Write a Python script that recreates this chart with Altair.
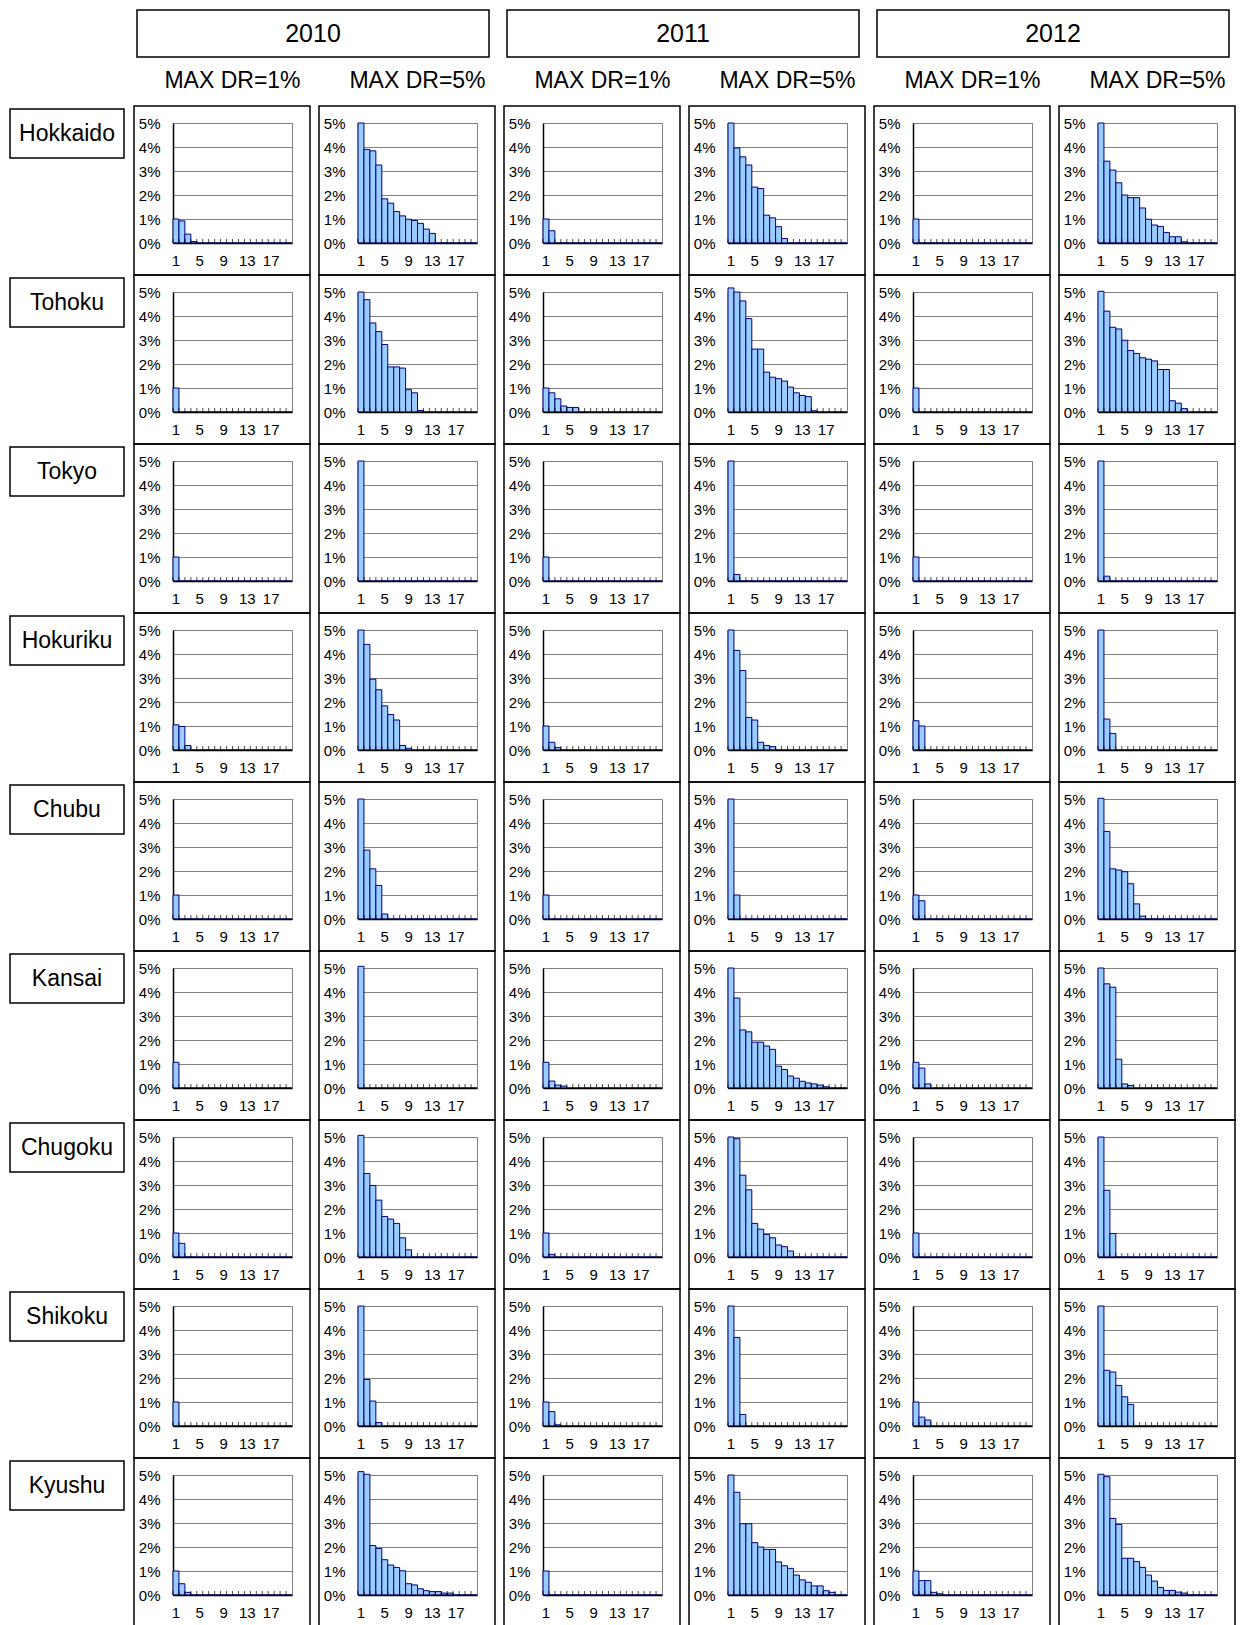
import altair as alt
import pandas as pd

# ---------------- data ----------------
regions = ["Hokkaido", "Tohoku", "Tokyo", "Hokuriku", "Chubu",
           "Kansai", "Chugoku", "Shikoku", "Kyushu"]
years = ["2010", "2011", "2012"]
dr_labels = ["MAX DR=1%", "MAX DR=5%"]
bins = list(range(1, 21))
x_label_values = [1, 5, 9, 13, 17]
y_tick_values = [0, 1, 2, 3, 4, 5]

# order of series in each region: 2010 DR1, 2010 DR5, 2011 DR1, 2011 DR5, 2012 DR1, 2012 DR5
# values in percent for bins 1, 2, 3, ... (remaining bins are 0)
hokkaido = [
    [1.0, 0.92, 0.37, 0.06],
    [5.0, 3.9, 3.84, 3.25, 1.84, 1.66, 1.31, 1.13, 0.99, 0.94, 0.82, 0.58, 0.4],
    [1.0, 0.51],
    [5.0, 3.96, 3.59, 3.25, 2.33, 2.27, 1.16, 1.05, 0.68, 0.19],
    [1.0],
    [5.0, 3.41, 3.04, 2.51, 2.0, 1.89, 1.89, 1.46, 0.99, 0.75, 0.69, 0.44, 0.26, 0.26, 0.05],
]
tohoku = [
    [1.0],
    [5.0, 4.68, 3.71, 3.35, 2.81, 1.88, 1.88, 1.83, 0.93, 0.8, 0.06],
    [1.0, 0.8, 0.55, 0.25, 0.19, 0.19],
    [5.17, 5.0, 4.63, 3.89, 2.62, 2.62, 1.66, 1.45, 1.39, 1.29, 1.04, 0.8, 0.69, 0.64, 0.05],
    [1.0],
    [5.03, 4.2, 3.53, 3.46, 2.99, 2.56, 2.44, 2.26, 2.2, 2.13, 1.77, 1.77, 0.47, 0.37, 0.14],
]
tokyo = [
    [1.0],
    [5.0],
    [1.0],
    [5.0, 0.27],
    [1.0],
    [5.0, 0.2],
]
hokuriku = [
    [1.05, 0.98, 0.19],
    [5.0, 4.4, 2.95, 2.51, 1.84, 1.48, 1.25, 0.19, 0.07],
    [1.0, 0.32, 0.1],
    [5.0, 4.15, 3.31, 1.36, 1.25, 0.32, 0.19, 0.14],
    [1.22, 1.0],
    [5.0, 1.29, 0.69],
]
chubu = [
    [1.0],
    [5.0, 2.87, 2.09, 1.4, 0.21],
    [1.0],
    [5.0, 1.0],
    [1.0, 0.76],
    [5.03, 3.65, 2.09, 2.04, 1.97, 1.47, 0.63, 0.12],
]
kansai = [
    [1.07],
    [5.07],
    [1.07, 0.29, 0.12, 0.08],
    [5.0, 3.75, 2.42, 2.34, 1.91, 1.91, 1.75, 1.61, 0.91, 0.77, 0.5, 0.41, 0.28, 0.21, 0.17, 0.12, 0.05],
    [1.07, 0.83, 0.17],
    [5.0, 4.34, 4.2, 1.2, 0.17, 0.1],
]
chugoku = [
    [1.0, 0.57],
    [5.07, 3.48, 2.98, 2.37, 1.69, 1.58, 1.4, 0.8, 0.3],
    [1.0, 0.1],
    [5.0, 4.93, 3.41, 2.8, 1.4, 1.16, 0.94, 0.8, 0.5, 0.43, 0.25],
    [1.0],
    [5.0, 2.78, 0.98],
]
shikoku = [
    [1.0],
    [5.0, 1.94, 1.04, 0.14],
    [1.0, 0.6, 0.05],
    [5.0, 3.69, 0.48],
    [1.0, 0.37, 0.25],
    [5.0, 2.32, 2.25, 1.69, 1.22, 0.9],
]
kyushu = [
    [1.0, 0.47, 0.11],
    [5.14, 5.03, 2.06, 1.94, 1.47, 1.25, 1.15, 1.01, 0.47, 0.42, 0.26, 0.18, 0.14, 0.14, 0.08, 0.08],
    [1.0],
    [5.0, 4.28, 2.97, 2.97, 2.18, 2.0, 1.9, 1.9, 1.38, 1.22, 1.11, 0.83, 0.63, 0.53, 0.38, 0.38, 0.18, 0.11],
    [1.0, 0.6, 0.6, 0.11, 0.05],
    [5.03, 4.93, 3.19, 2.94, 1.53, 1.53, 1.39, 1.15, 0.83, 0.58, 0.31, 0.19, 0.19, 0.12, 0.08],
]
series_by_region = [hokkaido, tohoku, tokyo, hokuriku, chubu,
                    kansai, chugoku, shikoku, kyushu]

# ---------------- styling ----------------
W, H = 119, 120
FONT = "Liberation Sans"
BAR_FILL = "#99CCFF"
BAR_STROKE = "#000080"
GRID = "#808080"


def pad(vals):
    return list(vals) + [0.0] * (len(bins) - len(vals))


x_scale = alt.Scale(domain=bins, paddingInner=0, paddingOuter=0)
y_scale = alt.Scale(domain=[y_tick_values[0], y_tick_values[-1]], nice=False)
label_test = " || ".join(f"datum.value == {v}" for v in x_label_values)

x_axis = alt.Axis(
    title=None, labelAngle=0, labelExpr=f"({label_test}) ? datum.label : ''",
    labelOverlap=False, ticks=False, tickSize=0, labelPadding=10,
    domainColor="black", domainWidth=1.5, grid=False,
    labelFontSize=15, labelColor="black", labelFont=FONT, zindex=1,
)
y_axis = alt.Axis(
    title=None, values=y_tick_values, labelExpr="datum.value + '%'",
    labelOverlap=False, labelFlush=False, labelBound=False,
    ticks=False, tickSize=0, labelPadding=13, tickCount=6,
    domainColor="black", domainWidth=1.5,
    grid=True, gridColor=GRID, gridWidth=1,
    labelFontSize=15, labelColor="black", labelFont=FONT,
)


def label_df(text):
    return pd.DataFrame({"label": [text]})


def panel(ri, ci):
    df = pd.DataFrame({"bin": bins, "value": pad(series_by_region[ri][ci])})
    base = alt.Chart(df)
    layers = []

    frame = alt.Chart(label_df("")).mark_rect(
        fill="white", fillOpacity=0, stroke="black", strokeWidth=1.5
    ).encode(x=alt.value(-39), x2=alt.value(137), y=alt.value(-17), y2=alt.value(152))
    layers.append(frame)

    bars = base.mark_bar(fill=BAR_FILL, stroke=BAR_STROKE, strokeWidth=1).encode(
        x=alt.X("bin:O", scale=x_scale, axis=x_axis),
        y=alt.Y("value:Q", scale=y_scale, axis=y_axis),
    )
    layers.append(bars)

    ticks = base.mark_tick(orient="vertical", size=4, thickness=1, color="black").encode(
        x=alt.X("bin:O", scale=x_scale, axis=x_axis, bandPosition=0),
        y=alt.datum(0),
        yOffset=alt.value(-2),
    )
    layers.append(ticks)

    if ci == 0:
        rl = alt.Chart(label_df(regions[ri]))
        layers.append(rl.mark_rect(fill="white", stroke="black", strokeWidth=1.5).encode(
            x=alt.value(-163), x2=alt.value(-49), y=alt.value(-14), y2=alt.value(35)))
        layers.append(rl.mark_text(font=FONT, fontSize=23, color="black",
                                   align="center", baseline="middle").encode(
            text="label:N", x=alt.value(-106), y=alt.value(11)))

    if ri == 0:
        hd = alt.Chart(label_df(dr_labels[ci % 2]))
        layers.append(hd.mark_text(font=FONT, fontSize=23, color="black",
                                   align="center", baseline="middle").encode(
            text="label:N", x=alt.value(W / 2), y=alt.value(-42)))
        if ci % 2 == 0:
            yr = alt.Chart(label_df(years[ci // 2]))
            layers.append(yr.mark_rect(fill="white", stroke="black", strokeWidth=1.5).encode(
                x=alt.value(-36), x2=alt.value(316), y=alt.value(-113), y2=alt.value(-66)))
            layers.append(yr.mark_text(font=FONT, fontSize=25, color="black",
                                       align="center", baseline="middle").encode(
                text="label:N", x=alt.value(140), y=alt.value(-89)))

    return alt.layer(*layers).properties(width=W, height=H)


panels = [panel(ri, ci) for ri in range(len(regions)) for ci in range(6)]

chart = alt.concat(
    *panels, columns=6, spacing={"row": 49, "column": 66}, bounds="flush"
).properties(
    padding=0, background="white"
).configure(font=FONT).configure_view(stroke=GRID, strokeWidth=1)

chart.save("out.html", embed_options={"renderer": "svg", "actions": False})
